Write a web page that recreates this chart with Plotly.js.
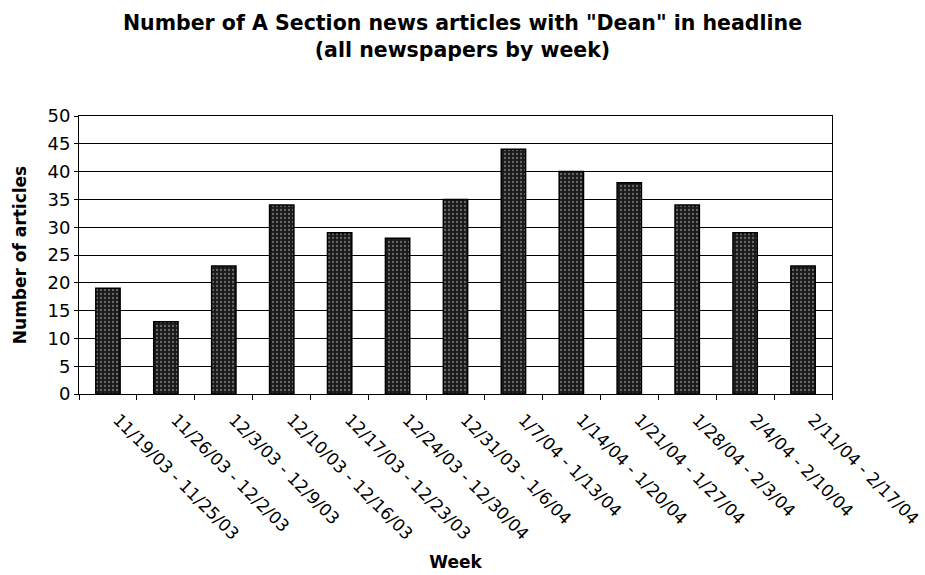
<!DOCTYPE html>
<html>
<head>
<meta charset="utf-8">
<script src="https://cdn.plot.ly/plotly-3.0.1.min.js"></script>
<style>html,body{margin:0;padding:0;background:#fff;}#chart{width:925px;height:575px;}</style>
</head>
<body>
<div id="chart"></div>
<script>
const weeks = [
  "11/19/03 - 11/25/03",
  "11/26/03 - 12/2/03",
  "12/3/03 - 12/9/03",
  "12/10/03 - 12/16/03",
  "12/17/03 - 12/23/03",
  "12/24/03 - 12/30/04",
  "12/31/03 - 1/6/04",
  "1/7/04 - 1/13/04",
  "1/14/04 - 1/20/04",
  "1/21/04 - 1/27/04",
  "1/28/04 - 2/3/04",
  "2/4/04 - 2/10/04",
  "2/11/04 - 2/17/04"
];
const articles = [19, 13, 23, 34, 29, 28, 35, 44, 40, 38, 34, 29, 23];
const yTicks = [0, 5, 10, 15, 20, 25, 30, 35, 40, 45, 50];

const font = "DejaVu Sans, Verdana, sans-serif";

const trace = {
  type: "bar",
  x: weeks,
  y: articles,
  marker: {
    color: "#1a1a1a",
    line: {color: "#000", width: 1.5},
    pattern: {shape: ".", fgcolor: "#6a6a6a", bgcolor: "#1a1a1a", size: 4, solidity: 0.25}
  },
  hoverinfo: "x+y"
};

const layout = {
  width: 925,
  height: 575,
  paper_bgcolor: "#fff",
  plot_bgcolor: "#fff",
  margin: {l: 79, r: 93, t: 116, b: 181},
  bargap: 0.58,
  showlegend: false,
  font: {family: font, color: "#000", size: 16},
  title: {
    text: "<b>Number of A Section news articles with \"Dean\" in headline<br>(all newspapers by week)</b>",
    font: {family: font, size: 20.5, color: "#000"},
    x: 0.5, xref: "container", xanchor: "center",
    yref: "container", y: 0.948, yanchor: "top"
  },
  xaxis: {
    type: "category",
    tickangle: 45,
    tickson: "boundaries",
    ticks: "outside",
    ticklen: 5,
    tickcolor: "#000",
    ticklabelstandoff: 8,
    ticklabelshift: 10,
    showline: true,
    linecolor: "#000",
    linewidth: 1,
    mirror: true,
    showgrid: false,
    tickfont: {family: font, size: 17, color: "#000"},
    title: {text: "<b>Week</b>", font: {family: font, size: 17, color: "#000"}, standoff: 13}
  },
  yaxis: {
    range: [0, 50],
    tickvals: yTicks,
    ticks: "outside",
    ticklen: 4,
    tickcolor: "#000",
    showline: true,
    linecolor: "#000",
    linewidth: 1,
    mirror: true,
    showgrid: true,
    gridcolor: "#000",
    gridwidth: 1,
    zeroline: false,
    tickfont: {family: font, size: 18, color: "#000"},
    title: {text: "<b>Number of articles</b>", font: {family: font, size: 17, color: "#000"}, standoff: 16}
  }
};

Plotly.newPlot("chart", [trace], layout, {displayModeBar: false, staticPlot: true});
</script>
</body>
</html>
